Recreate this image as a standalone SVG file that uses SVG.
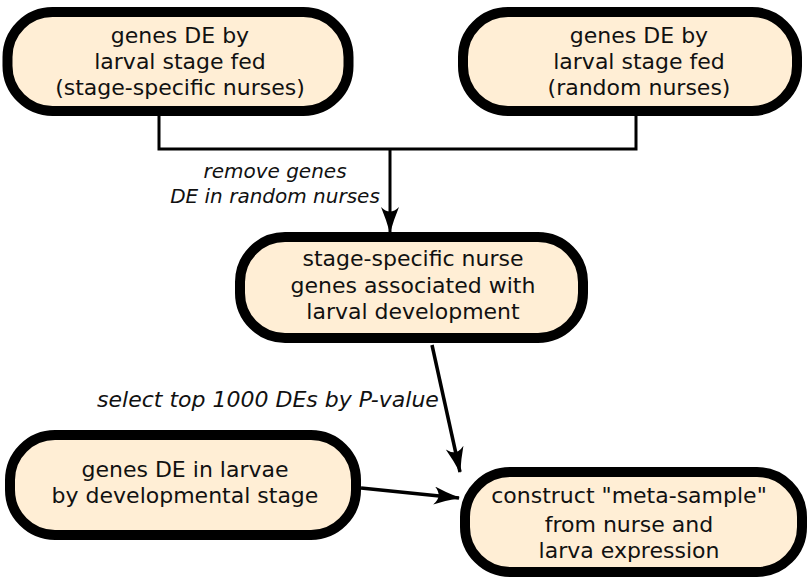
<svg xmlns="http://www.w3.org/2000/svg" width="808" height="578" viewBox="0 0 808 578">
<defs>
<style>
.box{fill:#ffeed5;stroke:#000;stroke-width:10}
.t{font-family:"DejaVu Sans",sans-serif;font-size:22px;fill:#111;text-anchor:middle}
.lbl{font-family:"DejaVu Sans",sans-serif;font-style:italic;font-size:20px;fill:#111;text-anchor:middle}
.c{fill:none;stroke:#000;stroke-width:3}
.a{fill:none;stroke:#000;stroke-width:3.5}
</style>
<marker id="ah" markerWidth="28" markerHeight="20" refX="26" refY="9" orient="auto" markerUnits="userSpaceOnUse">
<path d="M27,9 Q13,5 1,0 Q10,9 1,18 Q13,13 27,9 Z" fill="#000"/>
</marker>
</defs>
<g id="connectors">
<path class="c" d="M159,116 V149 H636 V116"/>
<path class="c" d="M390,149 V232" marker-end="url(#ah)"/>
<path class="a" d="M432,345 L460,472" marker-end="url(#ah)"/>
<path class="a" d="M361,488 L459,498" marker-end="url(#ah)"/>
<text class="lbl" x="275" y="178">remove genes</text>
<text class="lbl" x="275" y="203">DE in random nurses</text>
<text class="lbl" x="268" y="407" style="font-size:22px">select top 1000 DEs by P-value</text>
</g>
<g id="n1">
<rect class="box" x="7.5" y="12" width="341" height="99" rx="45"/>
<text class="t" x="180" y="43">genes DE by</text>
<text class="t" x="180" y="69">larval stage fed</text>
<text class="t" x="180" y="95">(stage-specific nurses)</text>
</g>
<g id="n2">
<rect class="box" x="463" y="12" width="334" height="99" rx="45"/>
<text class="t" x="639" y="43">genes DE by</text>
<text class="t" x="639" y="69">larval stage fed</text>
<text class="t" x="639" y="95">(random nurses)</text>
</g>
<g id="n3">
<rect class="box" x="240" y="237" width="343" height="101" rx="45"/>
<text class="t" x="413" y="266">stage-specific nurse</text>
<text class="t" x="413" y="293">genes associated with</text>
<text class="t" x="413" y="319">larval development</text>
</g>
<g id="n4">
<rect class="box" x="10" y="435" width="346" height="100" rx="45"/>
<text class="t" x="185" y="477">genes DE in larvae</text>
<text class="t" x="185" y="503">by developmental stage</text>
</g>
<g id="n5">
<rect class="box" x="465" y="472" width="337" height="100" rx="45"/>
<text class="t" x="629" y="503">construct "meta-sample"</text>
<text class="t" x="629" y="532">from nurse and</text>
<text class="t" x="629" y="558">larva expression</text>
</g>
</svg>
